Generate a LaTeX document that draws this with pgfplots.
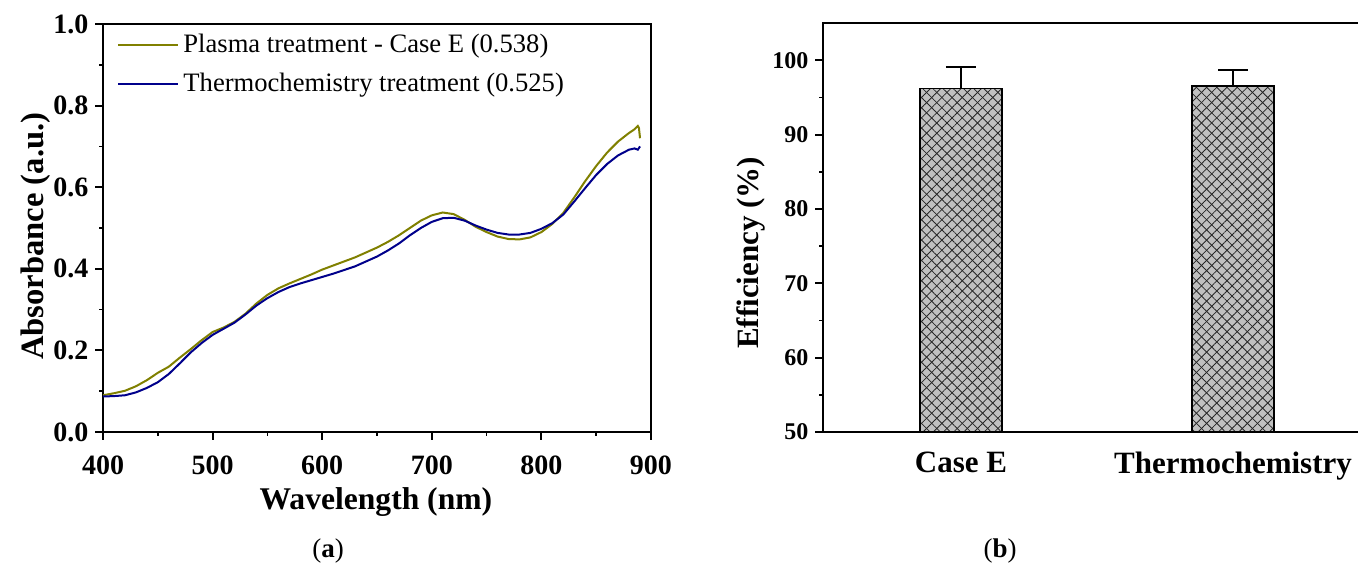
\documentclass[border=0pt]{standalone}
\usepackage{fontspec}
\setmainfont{Liberation Serif}
\usepackage{pgfplots}
\pgfplotsset{compat=1.18}
\usetikzlibrary{patterns.meta}

\definecolor{plasmaolive}{RGB}{128,128,0}
\definecolor{thermonavy}{RGB}{0,0,139}
\definecolor{barfill}{RGB}{192,192,192}

\pgfplotsset{
  paneltick/.style={
    /pgf/number format/assume math mode=true,
    axis line style={line width=1pt},
    tick align=outside,
    major tick length=3.8pt, minor tick length=2pt,
    every tick/.style={black, line width=1pt},
    minor tick style={line width=0.8pt},
  },
}

\begin{document}
\begin{tikzpicture}
\useasboundingbox (0,0) rectangle (679pt,285.5pt);

% (a) absorbance spectra
\begin{axis}[
  paneltick,
  at={(51.5pt,69.5pt)}, anchor=south west,
  width=274pt, height=204pt, scale only axis,
  xmin=400, xmax=900, ymin=0, ymax=1,
  xtick={400,500,600,700,800,900}, minor x tick num=1,
  ytick={0,0.2,0.4,0.6,0.8,1}, minor y tick num=1,
  xtick pos=bottom, ytick pos=left,
  tick label style={font=\fontsize{14}{14}\selectfont\bfseries},
  xticklabel style={yshift=-4.5pt},
  yticklabel style={/pgf/number format/.cd, fixed, fixed zerofill, precision=1},
  xlabel={Wavelength (nm)}, ylabel={Absorbance (a.u.)},
  every axis x label/.style={at={(axis description cs:0.498,-0.172)}, anchor=center,
    font=\fontsize{15.8}{16}\selectfont\bfseries},
  every axis y label/.style={at={(axis description cs:-0.122,0.48)}, rotate=90, anchor=center,
    font=\fontsize{16.3}{17}\selectfont\bfseries},
  legend style={draw=none, fill=none, at={(axis description cs:0.022,0.99)}, anchor=north west,
    font=\fontsize{13.3}{15}\selectfont, row sep=4.8pt, inner sep=1pt},
  legend cell align=left,
  legend image code/.code={\draw[#1] (0pt,0pt) -- (30pt,0pt);},
]
\addplot[plasmaolive, line width=1pt] coordinates {
(400,0.090) (410,0.095) (420,0.101) (430,0.112) (440,0.127) (450,0.145)
(460,0.160) (470,0.182) (480,0.203) (490,0.225) (500,0.245) (510,0.256)
(520,0.270) (530,0.290) (540,0.315) (550,0.336) (560,0.352) (570,0.364)
(580,0.375) (590,0.386) (600,0.398) (610,0.408) (620,0.418) (630,0.428)
(640,0.440) (650,0.452) (660,0.466) (670,0.482) (680,0.500) (690,0.518)
(700,0.531) (710,0.538) (720,0.534) (730,0.520) (740,0.503) (750,0.490)
(760,0.479) (770,0.473) (780,0.472) (790,0.477) (800,0.490) (810,0.510)
(820,0.537) (830,0.575) (840,0.615) (850,0.652) (860,0.685) (870,0.712)
(880,0.733) (885,0.742) (888,0.750) (889,0.745) (890,0.720)
};
\addlegendentry{Plasma treatment - Case E (0.538)}
\addplot[thermonavy, line width=1pt] coordinates {
(400,0.087) (410,0.088) (420,0.090) (430,0.097) (440,0.108) (450,0.122)
(460,0.142) (470,0.168) (480,0.195) (490,0.218) (500,0.238) (510,0.253)
(520,0.268) (530,0.288) (540,0.310) (550,0.328) (560,0.343) (570,0.355)
(580,0.364) (590,0.372) (600,0.380) (610,0.388) (620,0.397) (630,0.406)
(640,0.418) (650,0.430) (660,0.445) (670,0.462) (680,0.482) (690,0.500)
(700,0.515) (710,0.524) (720,0.525) (730,0.518) (740,0.506) (750,0.496)
(760,0.488) (770,0.484) (780,0.484) (790,0.488) (800,0.498) (810,0.512)
(820,0.533) (830,0.565) (840,0.598) (850,0.630) (860,0.657) (870,0.678)
(880,0.692) (885,0.695) (888,0.692) (890,0.700)
};
\addlegendentry{Thermochemistry treatment (0.525)}
\end{axis}

% (b) efficiency bars
\begin{axis}[
  paneltick,
  at={(411.5pt,69.5pt)}, anchor=south west,
  width=269.5pt, height=204.5pt, scale only axis,
  xmin=0.493, xmax=2.474, ymin=50, ymax=105,
  xtick={1,2}, xticklabels={Case E, Thermochemistry},
  major x tick style={draw=none},
  ytick={50,60,70,80,90,100}, minor y tick num=1,
  ytick pos=left,
  yticklabel style={font=\fontsize{12}{12}\selectfont\bfseries},
  xticklabel style={font=\fontsize{15.5}{16}\selectfont\bfseries, yshift=-2.5pt},
  ylabel={Efficiency (\%)},
  every axis y label/.style={at={(axis description cs:-0.133,0.438)}, rotate=90, anchor=center,
    font=\fontsize{15.5}{16}\selectfont\bfseries},
  ybar, bar width=41pt,
]
\addplot[draw=black, line width=0.8pt, fill=barfill,
  postaction={pattern={Lines[angle=45,distance=3.6pt,line width=0.4pt]}, pattern color=black!85},
  postaction={pattern={Lines[angle=-45,distance=3.6pt,line width=0.4pt]}, pattern color=black!85},
  error bars/.cd, y dir=plus, y explicit,
  error bar style={line width=1pt, black},
  error mark options={rotate=90, mark size=7.5pt, line width=1pt, black}]
coordinates {(1,96.2) +- (0,2.9) (2,96.5) +- (0,2.2)};
\end{axis}

\node[font=\fontsize{13.5}{14}\selectfont] at (164pt,10pt) {(\textbf{a})};
\node[font=\fontsize{13.5}{14}\selectfont] at (500pt,10pt) {(\textbf{b})};
\end{tikzpicture}
\end{document}
